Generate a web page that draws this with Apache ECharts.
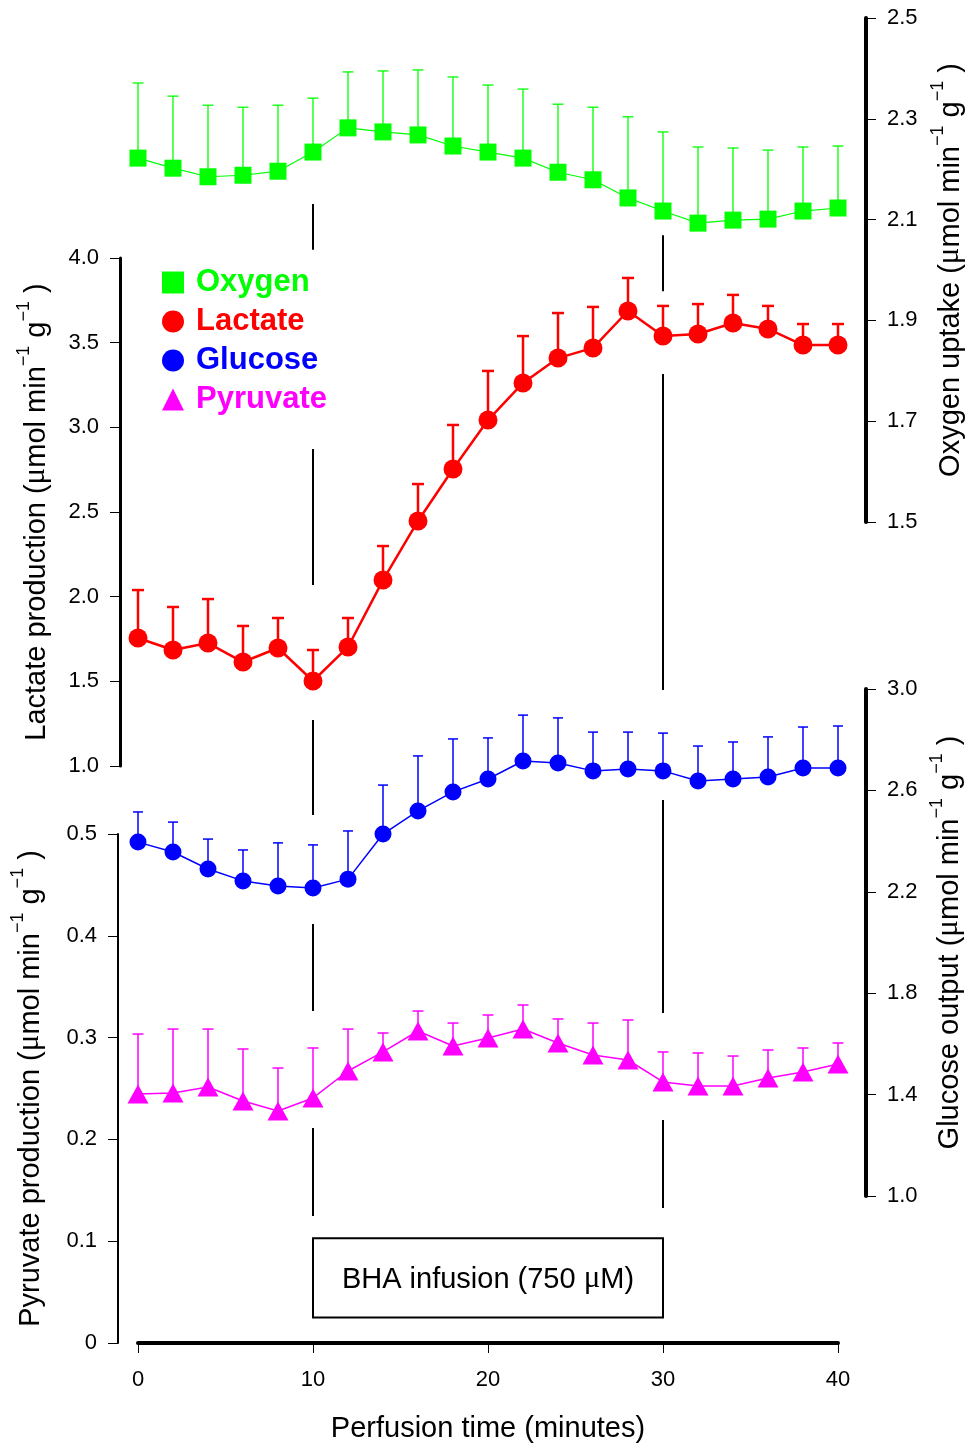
<!DOCTYPE html>
<html>
<head>
<meta charset="utf-8">
<script src="https://cdn.jsdelivr.net/npm/echarts@6/dist/echarts.min.js"></script>
<style>
  html, body { margin: 0; padding: 0; background: #fff; }
  #chart { width: 965px; height: 1443px; }
</style>
</head>
<body>
<div id="chart"></div>
<script>
// Perfusion time points (minutes)
const minutes = [0, 2, 4, 6, 8, 10, 12, 14, 16, 18, 20, 22, 24, 26, 28, 30, 32, 34, 36, 38, 40];

// Oxygen uptake (µmol min-1 g-1): mean and mean + error
const oxygen      = [2.222, 2.202, 2.185, 2.188, 2.196, 2.234, 2.282, 2.274, 2.268, 2.246, 2.234, 2.222, 2.194, 2.179, 2.143, 2.117, 2.093, 2.099, 2.101, 2.117, 2.123];
const oxygenUpper = [2.371, 2.345, 2.327, 2.323, 2.327, 2.341, 2.393, 2.395, 2.397, 2.383, 2.367, 2.359, 2.329, 2.323, 2.304, 2.274, 2.244, 2.242, 2.238, 2.244, 2.246];

// Lactate production
const lactate      = [1.756, 1.685, 1.726, 1.614, 1.697, 1.502, 1.703, 2.098, 2.447, 2.754, 3.043, 3.262, 3.409, 3.469, 3.687, 3.539, 3.551, 3.616, 3.581, 3.486, 3.486];
const lactateUpper = [2.039, 1.939, 1.986, 1.827, 1.874, 1.685, 1.874, 2.299, 2.665, 3.014, 3.333, 3.539, 3.675, 3.711, 3.882, 3.717, 3.728, 3.782, 3.717, 3.610, 3.610];

// Glucose output
const glucose      = [2.396, 2.357, 2.290, 2.243, 2.223, 2.215, 2.250, 2.428, 2.519, 2.594, 2.645, 2.716, 2.708, 2.677, 2.684, 2.677, 2.637, 2.645, 2.653, 2.688, 2.688];
const glucoseUpper = [2.515, 2.475, 2.408, 2.365, 2.393, 2.385, 2.440, 2.621, 2.736, 2.803, 2.807, 2.897, 2.886, 2.830, 2.830, 2.826, 2.775, 2.791, 2.811, 2.850, 2.854];

// Pyruvate production
const pyruvate      = [0.2446, 0.2456, 0.2515, 0.2377, 0.2279, 0.2407, 0.2672, 0.2859, 0.3065, 0.2917, 0.2996, 0.3084, 0.2947, 0.2829, 0.2780, 0.2564, 0.2525, 0.2525, 0.2603, 0.2662, 0.2741];
const pyruvateUpper = [0.3035, 0.3084, 0.3084, 0.2888, 0.2701, 0.2898, 0.3084, 0.3045, 0.3261, 0.3143, 0.3222, 0.3320, 0.3183, 0.3143, 0.3173, 0.2859, 0.2849, 0.2819, 0.2878, 0.2898, 0.2947];

// Axis ticks and their labels
const timeTicks = [0, 10, 20, 30, 40];
const timeLabels = ['0', '10', '20', '30', '40'];
const oxygenTicks = [1.5, 1.7, 1.9, 2.1, 2.3, 2.5];
const oxygenLabels = ['1.5', '1.7', '1.9', '2.1', '2.3', '2.5'];
const lactateTicks = [1.0, 1.5, 2.0, 2.5, 3.0, 3.5, 4.0];
const lactateLabels = ['1.0', '1.5', '2.0', '2.5', '3.0', '3.5', '4.0'];
const glucoseTicks = [1.0, 1.4, 1.8, 2.2, 2.6, 3.0];
const glucoseLabels = ['1.0', '1.4', '1.8', '2.2', '2.6', '3.0'];
const pyruvateTicks = [0, 0.1, 0.2, 0.3, 0.4, 0.5];
const pyruvateLabels = ['0', '0.1', '0.2', '0.3', '0.4', '0.5'];

// BHA infusion period (minutes) and its marker segments [time, from, to] in each panel's units
const bhaStart = 10, bhaEnd = 30;
const bhaOxygen   = [[10, 2.131, 2.040], [30, 2.069, 1.958]];
const bhaLactate  = [[10, 2.872, 2.069], [30, 3.315, 1.449]];
const bhaGlucose  = [[10, 2.878, 2.503], [10, 2.073, 1.730], [30, 2.562, 1.722]];
const bhaPyruvate = [[10, 0.2112, 0.1248], [30, 0.219, 0.1326]];
const bhaBox = [[bhaStart, bhaEnd, 0.025, 0.103]];

const FONT = '"Liberation Sans", Arial, Helvetica, sans-serif';
const SERIF = '"Liberation Serif", "DejaVu Serif", serif';
const GREEN = '#00ff00', RED = '#ff0000', BLUE = '#0000ff', MAGENTA = '#ff00ff';

const pairs = (ys) => minutes.map((m, i) => [m, ys[i]]);
const triples = (ys, up) => minutes.map((m, i) => [m, ys[i], up[i]]);
const pick = (ticks, labels) => (v) => {
  const i = ticks.findIndex(t => Math.abs(t - v) < 1e-9);
  return i < 0 ? '' : labels[i];
};

function unitName(label) {
  return '{t|' + label + ' (}{m|μ}{t|mol min}{s|−1}{t| g}{s|−1}{t| )}';
}
const nameRich = {
  t: { fontFamily: FONT, fontSize: 29, color: '#000', lineHeight: 36, verticalAlign: 'bottom' },
  m: { fontFamily: SERIF, fontSize: 31, color: '#000', lineHeight: 36, verticalAlign: 'bottom' },
  s: { fontFamily: FONT, fontSize: 18, color: '#000', lineHeight: 36, verticalAlign: 'top', padding: [0, 0, 4, 0] }
};

function yAxisDef(grid, pos, offset, min, max, ticks, labels, lineW, label, gap) {
  return {
    type: 'value', gridIndex: grid, position: pos, offset: offset, min: min, max: max,
    splitLine: { show: false },
    axisLine: { show: true, onZero: false, lineStyle: { color: '#000', width: lineW } },
    axisTick: { show: true, inside: false, length: 10, customValues: ticks, lineStyle: { color: '#000', width: 1 } },
    axisLabel: { customValues: ticks, formatter: pick(ticks, labels), fontFamily: FONT, fontSize: 22, color: '#000', margin: 21 },
    name: unitName(label), nameLocation: 'middle', nameRotate: 90, nameGap: gap,
    nameTextStyle: { rich: nameRich }
  };
}

function xAxisDef(grid, visible) {
  return {
    type: 'value', gridIndex: grid, min: 0, max: 40, show: visible,
    splitLine: { show: false },
    axisLine: { show: true, onZero: false, lineStyle: { color: '#000', width: 4 } },
    axisTick: { show: true, length: 10, customValues: timeTicks, lineStyle: { color: '#000', width: 1 } },
    axisLabel: { customValues: timeTicks, formatter: pick(timeTicks, timeLabels), fontFamily: FONT, fontSize: 22, color: '#000', margin: 26 },
    name: visible ? 'Perfusion time (minutes)' : '', nameLocation: 'middle', nameGap: 71,
    nameTextStyle: { fontFamily: FONT, fontSize: 29, color: '#000' }
  };
}

function errorBars(name, axis, data, color, lineW, capW) {
  return {
    type: 'custom', name: name + ' error', xAxisIndex: axis, yAxisIndex: axis, z: 1,
    silent: true, data: data,
    renderItem: function (params, api) {
      const p = api.coord([api.value(0), api.value(1)]);
      const q = api.coord([api.value(0), api.value(2)]);
      const st = { stroke: color, lineWidth: lineW };
      return {
        type: 'group', children: [
          { type: 'line', shape: { x1: p[0], y1: p[1], x2: q[0], y2: q[1] }, style: st },
          { type: 'line', shape: { x1: q[0] - capW / 2, y1: q[1], x2: q[0] + capW / 2, y2: q[1] }, style: st }
        ]
      };
    }
  };
}

function bhaMarks(axis, data) {
  return {
    type: 'custom', xAxisIndex: axis, yAxisIndex: axis, z: 0, silent: true, data: data,
    renderItem: function (params, api) {
      const a = api.coord([api.value(0), api.value(1)]);
      const b = api.coord([api.value(0), api.value(2)]);
      return { type: 'line', shape: { x1: a[0], y1: a[1], x2: b[0], y2: b[1] }, style: { stroke: '#000', lineWidth: 2 } };
    }
  };
}

function lineSeries(name, axis, ys, color, lineW, symbol, size) {
  return {
    type: 'line', name: name, xAxisIndex: axis, yAxisIndex: axis, z: 3,
    data: pairs(ys), symbol: symbol, symbolSize: size, showSymbol: true,
    lineStyle: { color: color, width: lineW }, itemStyle: { color: color },
    emphasis: { disabled: true }, animation: false
  };
}

const gridBase = { left: 138, width: 700, outerBoundsMode: 'none', containLabel: false };

const chart = echarts.init(document.getElementById('chart'), null, { renderer: 'canvas' });
chart.setOption({
  animation: false,
  backgroundColor: '#fff',
  grid: [
    Object.assign({ top: 18, height: 504 }, gridBase),    // oxygen
    Object.assign({ top: 258, height: 508 }, gridBase),   // lactate
    Object.assign({ top: 689, height: 507 }, gridBase),   // glucose
    Object.assign({ top: 834, height: 509 }, gridBase)    // pyruvate
  ],
  xAxis: [xAxisDef(0, false), xAxisDef(1, false), xAxisDef(2, false), xAxisDef(3, true)],
  yAxis: [
    yAxisDef(0, 'right', 28, 1.5, 2.5, oxygenTicks, oxygenLabels, 4, 'Oxygen uptake', 63),
    yAxisDef(1, 'left', 18, 1.0, 4.0, lactateTicks, lactateLabels, 3, 'Lactate production', 69),
    yAxisDef(2, 'right', 28, 1.0, 3.0, glucoseTicks, glucoseLabels, 4, 'Glucose output', 51),
    yAxisDef(3, 'left', 20, 0, 0.5, pyruvateTicks, pyruvateLabels, 2, 'Pyruvate production', 73)
  ],
  legend: {
    orient: 'vertical', left: 157, top: 262, itemGap: 8, itemWidth: 22, itemHeight: 22,
    selectedMode: false,
    textStyle: { fontFamily: FONT, fontSize: 31, fontWeight: 'bold', lineHeight: 31, padding: [0, 0, 0, 7] },
    data: [
      { name: 'Oxygen', icon: 'rect', textStyle: { color: GREEN } },
      { name: 'Lactate', icon: 'circle', textStyle: { color: RED } },
      { name: 'Glucose', icon: 'circle', textStyle: { color: BLUE } },
      { name: 'Pyruvate', icon: 'triangle', textStyle: { color: MAGENTA } }
    ]
  },
  series: [
    bhaMarks(0, bhaOxygen), bhaMarks(1, bhaLactate), bhaMarks(2, bhaGlucose), bhaMarks(3, bhaPyruvate),
    {
      type: 'custom', xAxisIndex: 3, yAxisIndex: 3, z: 0, silent: true, data: bhaBox,
      renderItem: function (params, api) {
        const tl = api.coord([api.value(0), api.value(3)]);
        const br = api.coord([api.value(1), api.value(2)]);
        return {
          type: 'group', children: [
            { type: 'rect', shape: { x: tl[0], y: tl[1], width: br[0] - tl[0], height: br[1] - tl[1] },
              style: { fill: '#fff', stroke: '#000', lineWidth: 2 } },
            { type: 'text', x: (tl[0] + br[0]) / 2, y: (tl[1] + br[1]) / 2,
              style: {
                text: '{a|BHA infusion (750 }{m|μ}{a|M)}', align: 'center', verticalAlign: 'middle',
                rich: {
                  a: { fontFamily: FONT, fontSize: 29, fill: '#000', lineHeight: 34, verticalAlign: 'bottom' },
                  m: { fontFamily: SERIF, fontSize: 31, fill: '#000', lineHeight: 34, verticalAlign: 'bottom' }
                }
              } }
          ]
        };
      }
    },
    errorBars('Oxygen', 0, triples(oxygen, oxygenUpper), GREEN, 1.3, 11),
    errorBars('Lactate', 1, triples(lactate, lactateUpper), RED, 2.5, 12),
    errorBars('Glucose', 2, triples(glucose, glucoseUpper), BLUE, 1.5, 10),
    errorBars('Pyruvate', 3, triples(pyruvate, pyruvateUpper), MAGENTA, 1.5, 11),
    lineSeries('Oxygen', 0, oxygen, GREEN, 1.2, 'rect', 17),
    lineSeries('Lactate', 1, lactate, RED, 2.5, 'circle', 19),
    lineSeries('Glucose', 2, glucose, BLUE, 1.5, 'circle', 17),
    lineSeries('Pyruvate', 3, pyruvate, MAGENTA, 1.5, 'triangle', [21, 19])
  ]
});
</script>
</body>
</html>
